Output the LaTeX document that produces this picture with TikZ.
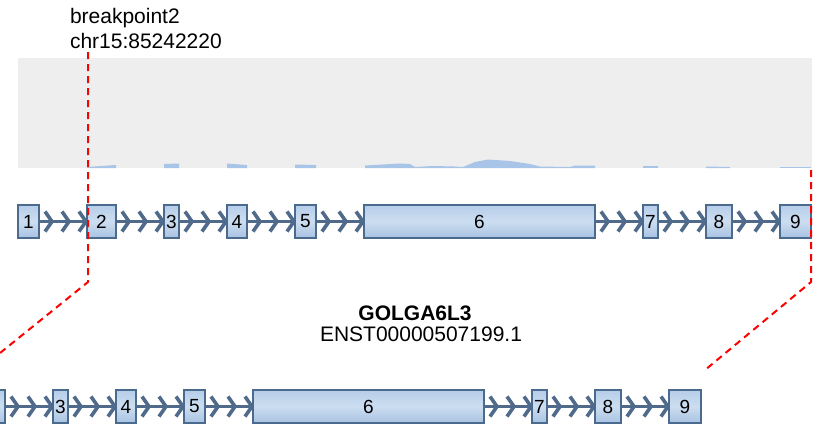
\documentclass[tikz,border=0pt]{standalone}
\usepackage{fontspec}
\setmainfont{Liberation Sans}
\usetikzlibrary{calc,backgrounds}
\definecolor{covgrey}{HTML}{EEEEEE}
\definecolor{covblue}{HTML}{A8C4E6}
\definecolor{intronblue}{HTML}{4F6A8A}
\definecolor{exonline}{HTML}{4A6A8E}
\definecolor{exontop}{HTML}{B6CDE9}
\definecolor{exonmid}{HTML}{CCDDF0}
\definecolor{exonbot}{HTML}{A8C2E2}
\begin{document}
\begin{tikzpicture}[x=1pt, y=-1pt, every node/.style={inner sep=0pt, outer sep=0pt},
  exon/.style={draw=exonline, line width=1.2pt, top color=exontop, bottom color=exonbot, middle color=exonmid, minimum height=33pt, font=\fontsize{19}{21}\selectfont},
  intron/.style={draw=intronblue, line width=3pt},
  chev/.style={draw=intronblue, line width=3.6pt, line join=miter},
  cut/.style={red, line width=2pt, dash pattern=on 7pt off 5pt},
  label/.style={font=\fontsize{21}{24}\selectfont}]
\clip (0,0) rectangle (819,440);
% coverage track
\fill[covgrey] (18,58) rectangle (812,168);
\fill[covblue] (87,168) -- (87,167) -- (116,165) -- (116,168) -- cycle;
\fill[covblue] (164,168) -- (164,164) -- (179,163.5) -- (179,168) -- cycle;
\fill[covblue] (227,168) -- (227,163.5) -- (247,165) -- (247,168) -- cycle;
\fill[covblue] (295,168) -- (295,164.5) -- (316,165) -- (316,168) -- cycle;
\fill[covblue] (365,168) -- (365,165.5) -- (400,163.5) -- (410,164) -- (415,167) -- (433,166) -- (455,166.5) -- (463,167)
  -- (475,162) -- (488,159.5) -- (510,161) -- (530,164) -- (540,166.5) -- (570,167) -- (575,165.5) -- (595,165.5) -- (595,168) -- cycle;
\fill[covblue] (643,168) -- (643,165.5) -- (658,165.5) -- (658,168) -- cycle;
\fill[covblue] (706,168) -- (706,166.5) -- (730,167) -- (730,168) -- cycle;
\fill[covblue] (780,168) -- (780,167) -- (811,167) -- (811,168) -- cycle;
% transcript, top row
\foreach \n/\a/\b in {1/18/39, 2/87/116, 3/164/179, 4/227/247, 5/295/316, 6/364/595, 7/643/658, 8/706/732, 9/780/811}
  \node[exon, minimum width={(\b-\a)*1pt}] (t\n) at ({(\a+\b)/2}, 221.5) {\n};
% transcript, bottom row (zoomed)
\foreach \n/\a/\b in {2/87/116, 3/164/179, 4/227/247, 5/295/316, 6/364/595, 7/643/658, 8/706/732, 9/780/812}
  \node[exon, minimum width={(\b-\a)*1pt}] (b\n) at ({(\a+\b)/2-111}, 406.5) {\ifnum\n>2 \n\fi};
\begin{pgfonlayer}{background}
\foreach \i [evaluate=\i as \j using int(\i+1)] in {1,...,8} {
  \draw[intron] (t\i.east) -- (t\j.west);
  \foreach \t in {13,30,47}
    \draw[chev] ([xshift=\t pt]t\i.east) ++(-7,-10) -- ++(7,10) -- ++(-7,10);
}
\foreach \i [evaluate=\i as \j using int(\i+1)] in {2,...,8} {
  \draw[intron] (b\i.east) -- (b\j.west);
  \foreach \t in {13,30,47}
    \draw[chev] ([xshift=\t pt]b\i.east) ++(-7,-10) -- ++(7,10) -- ++(-7,10);
}
\end{pgfonlayer}
% gene name
\node[font=\fontsize{21}{24}\selectfont\bfseries, anchor=base] (gene) at (415,320) {GOLGA6L3};
\node[label, anchor=base] (tx) at (421,341) {ENST00000507199.1};
% breakpoint
\node[label, anchor=base west] (bpname) at (70,23) {breakpoint2};
\node[label, anchor=base west] (bppos) at (70,48) {chr15:85242220};
\coordinate (bp) at (88,52);
\coordinate (bpknee) at (88,282);
\coordinate (bpend) at (0,353);
\coordinate (ed) at (811,170);
\coordinate (edknee) at (811,282);
\coordinate (edend) at (705,370);
\draw[cut] (bp) -- (bpknee) -- (bpend);
\draw[cut] (ed) -- (edknee) -- (edend);
\end{tikzpicture}
\end{document}
